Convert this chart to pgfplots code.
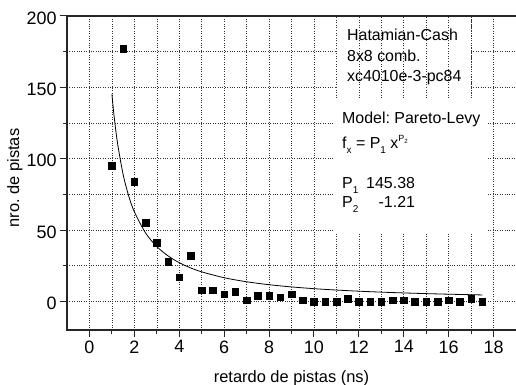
\documentclass[border=0pt]{standalone}
\usepackage{fontspec}
\setmainfont{Liberation Sans}
\usepackage{pgfplots}
\pgfplotsset{compat=1.18}
\begin{document}
\frenchspacing
\begin{tikzpicture}
\begin{axis}[
  name=ax,
  scale only axis, width=449bp, height=314bp,
  xmin=-1, xmax=19, ymin=-20, ymax=200,
  axis line style={draw=none},
  xtick pos=lower, ytick pos=left,
  xtick={0,2,...,18}, ytick={0,50,...,200},
  minor xtick={1,3,...,17}, minor ytick={25,75,125,175},
  grid=both,
  major grid style={dotted, black!80, line width=0.6bp},
  minor grid style={dotted, black!80, line width=0.6bp},
  tick align=outside,
  major tick length=7bp, minor tick length=4bp,
  tick style={line width=1bp, black!85},
  /pgf/number format/assume math mode=true,
  ticklabel style={font=\fontsize{18}{18}\selectfont},
  yticklabel style={yshift=-2bp},
  xlabel={retardo de pistas (ns)},
  ylabel={nro. de pistas},
  xlabel style={at={(axis description cs:0.5,-0.153)}, anchor=center, font=\fontsize{16.5}{16.5}\selectfont},
  ylabel style={at={(axis description cs:-0.116,0.484)}, anchor=center, font=\fontsize{16.5}{16.5}\selectfont},
  clip=false,
]
\addplot[only marks, mark=square*, mark size=3.3bp, black] coordinates {
(1,95) (1.5,177) (2,84) (2.5,55) (3,41) (3.5,28) (4,17) (4.5,32)
(5,8) (5.5,8) (6,5) (6.5,7) (7,1) (7.5,4) (8,4) (8.5,3) (9,5) (9.5,1)
(10,0) (10.5,0) (11,0) (11.5,2) (12,0) (12.5,0) (13,0) (13.5,1) (14,1)
(14.5,0) (15,0) (15.5,0) (16,1) (16.5,0) (17,2) (17.5,0)
};
\addplot[smooth, black, line width=0.8bp] coordinates {
(1,145.38) (1.1,129.54) (1.25,110.98) (1.5,89.01) (1.75,73.86) (2,62.84)
(2.5,47.97) (3,38.47) (3.5,31.93) (4,27.17) (4.5,23.56) (5,20.74) (6,16.63)
(7,13.80) (8,11.74) (9,10.18) (10,8.96) (11,7.99) (12,7.19) (13,6.53)
(14,5.97) (15,5.49) (16,5.08) (17.5,4.56)
};
% white text backgrounds
\fill[white] (axis cs:11,142.6) rectangle (axis cs:17,200);
\draw[dotted, black!80, line width=0.6bp] (axis cs:11,142.6) -- (axis cs:11,200);
\draw[dotted, black!80, line width=0.6bp] (axis cs:12,142.6) -- (axis cs:12,200);
\draw[dotted, black!80, line width=0.6bp] (axis cs:13,142.6) -- (axis cs:13,200);
\draw[dotted, black!80, line width=0.6bp] (axis cs:14,142.6) -- (axis cs:14,200);
\draw[dotted, black!80, line width=0.6bp] (axis cs:15,142.6) -- (axis cs:15,200);
\draw[dotted, black!80, line width=0.6bp] (axis cs:16,142.6) -- (axis cs:16,200);
\draw[dotted, black!80, line width=0.6bp] (axis cs:17,142.6) -- (axis cs:17,200);
\fill[white] (axis cs:10.86,48.1) rectangle (axis cs:17.7,142.6);
% axis lines: left, bottom, top
\draw[line width=1.2bp, black!85] (rel axis cs:1,1) -- (rel axis cs:0,1) -- (rel axis cs:0,0) -- (rel axis cs:1,0);
% texts
\begin{scope}[every node/.style={inner sep=0pt, font=\fontsize{16}{16}\selectfont}]
\node[anchor=base west] at (axis cs:11.47,182.8) {Hatamian-Cash};
\node[anchor=base west] at (axis cs:11.47,168.1) {8x8 comb.};
\node[anchor=base west] at (axis cs:11.47,154.1) {xc4010e-3-pc84};
\node[anchor=base west] at (axis cs:11.25,124.9) {Model: Pareto-Levy};
\node[anchor=base west] at (axis cs:11.25,107.4) {f\raisebox{-5bp}{\fontsize{10}{10}\selectfont x} = P\raisebox{-5bp}{\fontsize{10}{10}\selectfont 1} x\raisebox{7bp}{\fontsize{9}{9}\selectfont P\raisebox{-2bp}{\fontsize{6}{6}\selectfont 2}}};
\node[anchor=base west] at (axis cs:11.25,79.4) {P\raisebox{-5bp}{\fontsize{10}{10}\selectfont 1}};
\node[anchor=base west] at (axis cs:11.25,65.8) {P\raisebox{-5bp}{\fontsize{10}{10}\selectfont 2}};
\node[anchor=base east] at (axis cs:14.51,79.4) {145.38};
\node[anchor=base east] at (axis cs:14.51,65.8) {-1.21};
\end{scope}
\end{axis}
\pgfresetboundingbox
\path[use as bounding box] ([xshift=-67bp,yshift=-55bp]ax.south west) rectangle ([yshift=16bp]ax.north east);
\end{tikzpicture}
\end{document}
